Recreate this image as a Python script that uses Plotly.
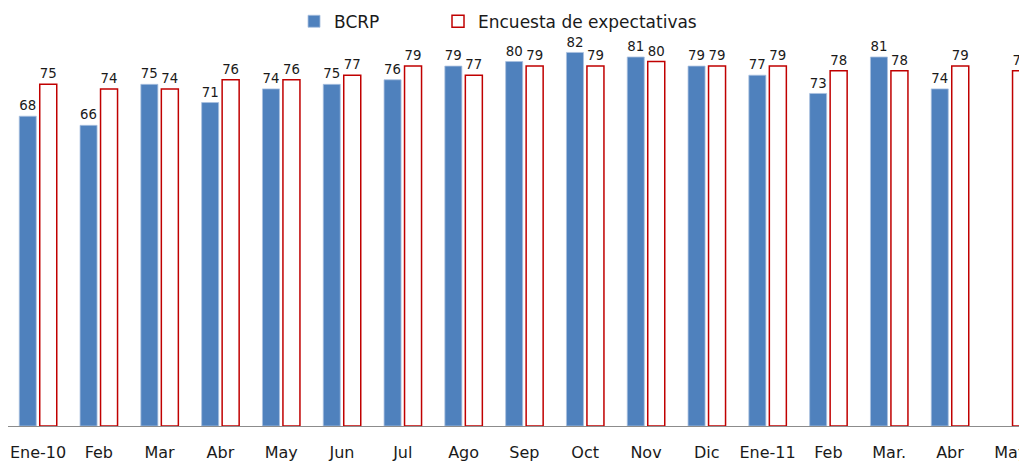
import plotly.graph_objects as go

categories = ["Ene-10", "Feb", "Mar", "Abr", "May", "Jun", "Jul", "Ago", "Sep",
              "Oct", "Nov", "Dic", "Ene-11", "Feb", "Mar.", "Abr", "May"]
bcrp = [68, 66, 75, 71, 74, 75, 76, 79, 80, 82, 81, 79, 77, 73, 81, 74, None]
encuesta = [75, 74, 74, 76, 76, 77, 79, 77, 79, 79, 80, 79, 79, 78, 78, 79, 78]

xpos = list(range(len(categories)))
FONT = "DejaVu Sans"
fig = go.Figure()
fig.add_trace(go.Bar(
    x=xpos, y=bcrp, name="BCRP", legend="legend",
    marker=dict(color="#4F81BD", line=dict(color="#A9C0E0", width=0.8)),
    text=[("" if v is None else str(v)) for v in bcrp],
    textposition="outside", textfont=dict(family=FONT, size=14, color="#1a1a1a"),
    cliponaxis=False,
))
fig.add_trace(go.Bar(
    x=xpos, y=encuesta, name="Encuesta de expectativas", legend="legend2",
    marker=dict(color="white", line=dict(color="#C00000", width=1.5)),
    text=[str(v) for v in encuesta],
    textposition="outside", textfont=dict(family=FONT, size=14, color="#1a1a1a"),
    cliponaxis=False,
))
legfont = dict(family=FONT, size=17, color="#1a1a1a")
fig.update_layout(
    width=1027, height=461,
    margin=dict(l=0, r=0, t=8, b=43, autoexpand=False),
    paper_bgcolor="white", plot_bgcolor="white",
    barmode="group", bargap=0.326, bargroupgap=0.17,
    font=dict(family=FONT, size=15, color="#1a1a1a"),
    showlegend=True,
    legend=dict(orientation="h", x=0.2785, y=1.03, xanchor="left", yanchor="top",
                font=legfont, itemwidth=30, bgcolor="rgba(0,0,0,0)"),
    legend2=dict(orientation="h", x=0.4187, y=1.03, xanchor="left", yanchor="top",
                 font=legfont, itemwidth=30, bgcolor="rgba(0,0,0,0)"),
    xaxis=dict(range=[-0.4934, 16.398], showline=True, linecolor="#8C8C8C", linewidth=1.2,
               tickmode="array", tickvals=xpos, ticktext=categories,
               ticks="", showgrid=False, zeroline=False, automargin=False,
               ticklabelstandoff=12,
               tickfont=dict(family=FONT, size=16, color="#1a1a1a"), tickangle=0),
    yaxis=dict(range=[0, 90], showticklabels=False, showgrid=False, zeroline=False,
               showline=False, ticks="", automargin=False),
)
fig.write_html("out.html")
